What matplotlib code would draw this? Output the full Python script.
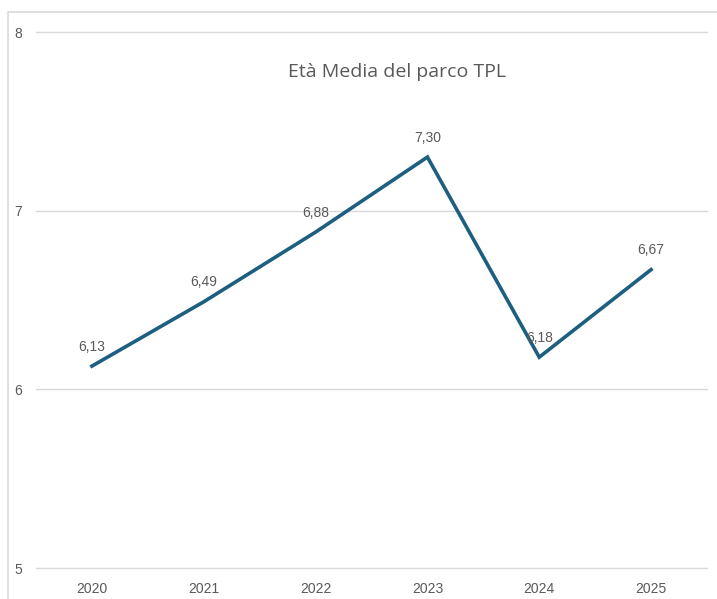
import matplotlib
matplotlib.use("Agg")
import matplotlib.pyplot as plt
from matplotlib.lines import Line2D

anni = ["2020", "2021", "2022", "2023", "2024", "2025"]
eta_media = [6.13, 6.49, 6.88, 7.30, 6.18, 6.67]
etichette = ["6,13", "6,49", "6,88", "7,30", "6,18", "6,67"]

W, H = 717, 599
fig = plt.figure(figsize=(W / 100, H / 100), dpi=100)
ax = fig.add_axes([36 / W, 1 - 568 / H, (707 - 36) / W, (568 - 32) / H])

grigio = "#595959"
x = range(len(anni))
ax.plot(x, eta_media, color="#1D5F80", linewidth=2.6, solid_joinstyle="miter")

for xi, v, lab in zip(x, eta_media, etichette):
    ax.annotate(lab, (xi, v), xytext=(0, 9), textcoords="offset points",
                ha="center", va="bottom", fontsize=10, color=grigio,
                family="Liberation Sans")

ax.set_xlim(-0.5, len(anni) - 0.5)
ax.set_ylim(5, 8)
ax.set_yticks([5, 6, 7, 8])
ax.set_xticks(list(x))
ax.set_xticklabels(anni)
ax.grid(axis="y", color="#d9d9d9", linewidth=1)
for g in ax.get_ygridlines():
    g.set_clip_on(False)
ax.set_axisbelow(True)
for s in ax.spines.values():
    s.set_visible(False)
ax.tick_params(length=0, labelsize=10, labelcolor=grigio)
ax.tick_params(axis="y", pad=10)
ax.tick_params(axis="x", pad=10)
for t in ax.get_xticklabels() + ax.get_yticklabels():
    t.set_family("Liberation Sans")

fig.text(397 / W, 1 - 72 / H, "Età Media del parco TPL", ha="center", va="center",
         fontsize=14, color=grigio, family="Open Sans")

# bordo del riquadro (solo sinistra e alto visibili)
bx, by = 7.5 / W, 1 - 11.5 / H
fig.lines.append(Line2D([bx, bx, 1.0], [0, by, by], transform=fig.transFigure,
                        color="#d9d9d9", linewidth=1.2))

fig.savefig("out.png", dpi=100)
